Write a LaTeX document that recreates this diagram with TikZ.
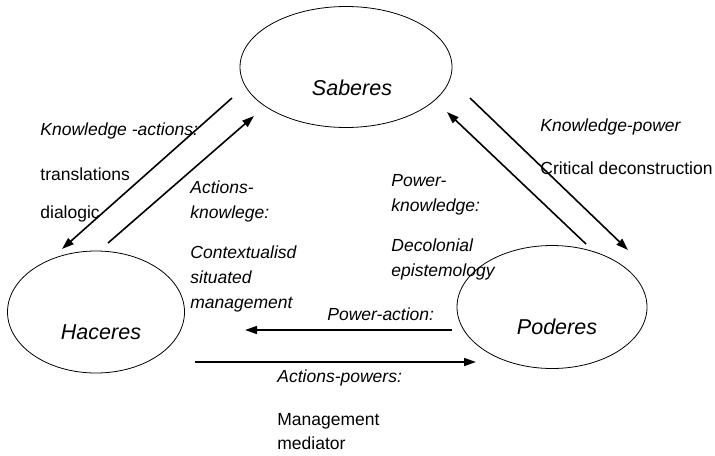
\documentclass[tikz,border=0pt]{standalone}
\usepackage{fontspec}
\setmainfont{Liberation Sans}
\usetikzlibrary{shapes.geometric, arrows.meta}

\tikzset{
  realm/.style={draw, ellipse, thin, inner sep=0pt},
  realmname/.style={inner sep=0pt, font=\fontsize{10.75}{13}\selectfont\itshape},
  flow/.style={line width=0.8pt, -{Triangle[length=6pt, width=4pt]}},
  note/.style={anchor=west, inner sep=0pt, align=left, font=\fontsize{8.75}{12.5}\selectfont},
  inote/.style={note, font=\fontsize{8.75}{12.5}\selectfont\itshape},
}

\begin{document}
\begin{tikzpicture}[x=0.5pt, y=-0.5pt]
    \useasboundingbox (0,0) rectangle (715,455);

    % the three realms
    \node[realm, minimum width=106pt, minimum height=60.5pt] (saberes) at (346,67) {};
    \node[realm, minimum width=88.5pt, minimum height=61pt] (haceres) at (96,312) {};
    \node[realm, minimum width=95pt, minimum height=61.5pt] (poderes) at (552,307) {};
    \node[realmname] (saberes-name) at ([shift={(6,21)}]saberes.center) {Saberes};
    \node[realmname] (haceres-name) at ([shift={(5,20)}]haceres.center) {Haceres};
    \node[realmname] (poderes-name) at ([shift={(5,20)}]poderes.center) {Poderes};

    % flows between them
    \draw[flow] ([shift={(-114,31)}]saberes.center) -- ([shift={(-34,-63)}]haceres.center);
    \draw[flow] ([shift={(12,-69)}]haceres.center) -- ([shift={(-92,49)}]saberes.center);
    \draw[flow] ([shift={(34,-63)}]poderes.center) -- ([shift={(101,45)}]saberes.center);
    \draw[flow] ([shift={(124,31)}]saberes.center) -- ([shift={(76,-57)}]poderes.center);
    \draw[flow] ([shift={(-100,23)}]poderes.center) -- ([shift={(149,18)}]haceres.center);
    \draw[flow] ([shift={(99,50)}]haceres.center) -- ([shift={(-76,55)}]poderes.center);

    % labels
    \node[inote] (ka) at (40,131) {Knowledge -actions:};
    \node[note] (ka-1) at (40,174) {translations};
    \node[note] (ka-2) at (40,214) {dialogic};
    \node[inote] (ak) at (190,201) {Actions-\\knowlege:};
    \node[inote] (ak-1) at (190,279) {Contextualisd\\situated\\management};
    \node[inote] (pk) at (391,195) {Power-\\knowledge:};
    \node[inote] (pk-1) at (391,259.5) {Decolonial\\epistemology};
    \node[inote] (kp) at (540,127) {Knowledge-power};
    \node[note] (kp-1) at (540,168) {Critical deconstruction};
    \node[inote] (pa) at (327,314) {Power-action:};
    \node[inote] (ap) at (277,378) {Actions-powers:};
    \node[note, font=\fontsize{8.75}{12}\selectfont] (ap-1) at (277,432) {Management\\mediator};
\end{tikzpicture}
\end{document}
